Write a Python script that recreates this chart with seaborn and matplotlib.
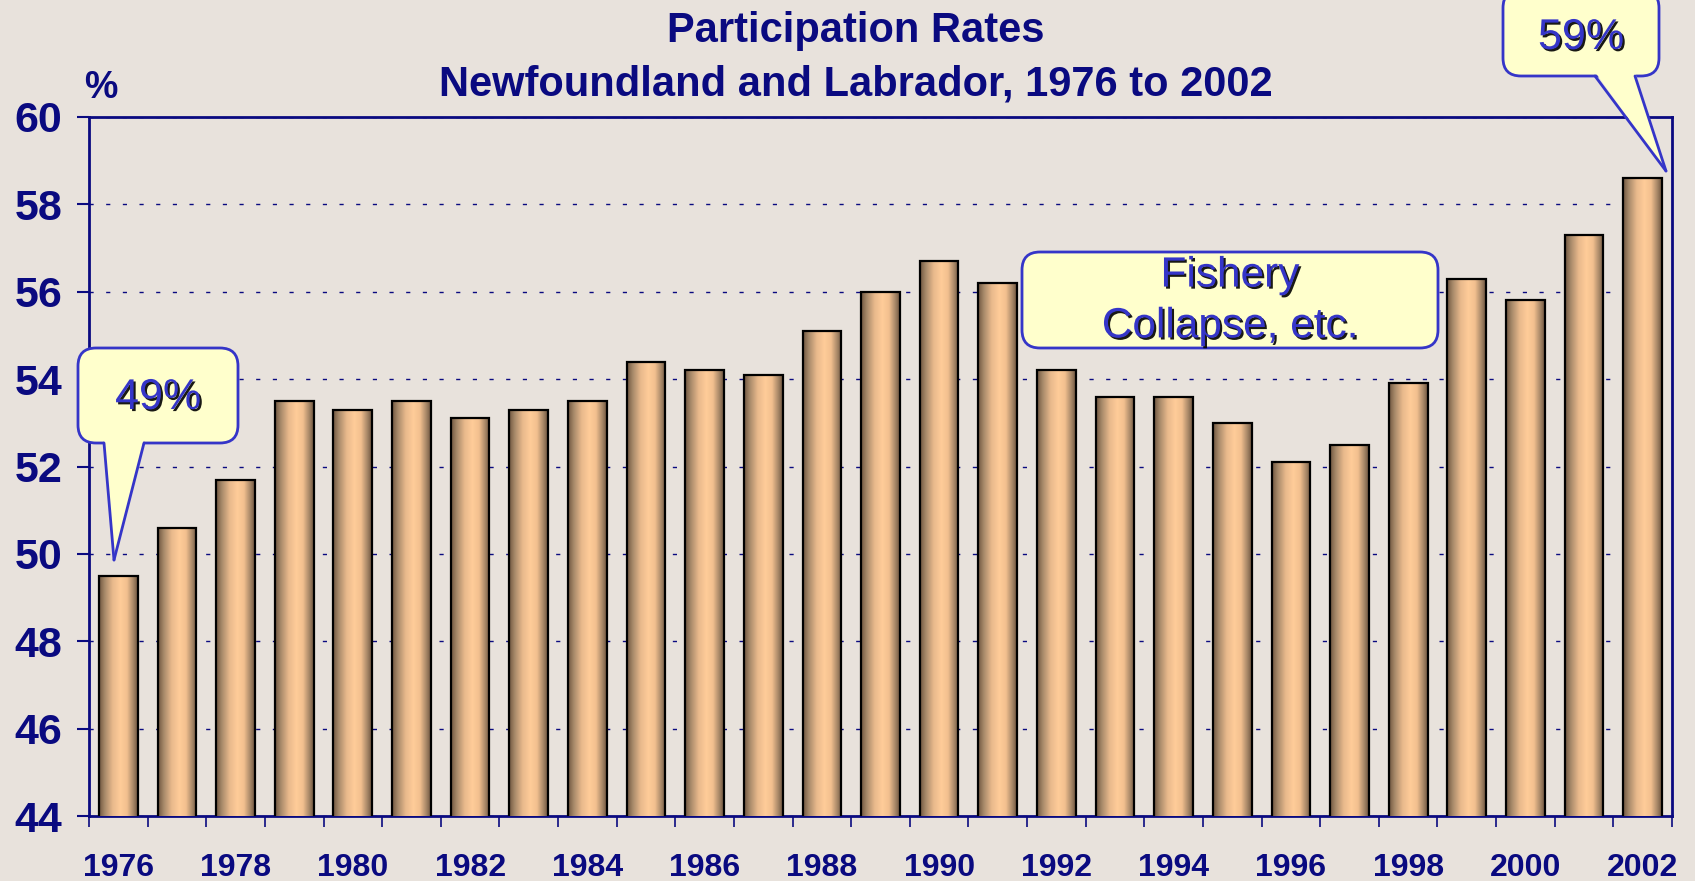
import numpy as np
import pandas as pd
import matplotlib
matplotlib.use('Agg')
import matplotlib.pyplot as plt
import matplotlib.patheffects as pe
from matplotlib.colors import LinearSegmentedColormap
from matplotlib.patches import FancyBboxPatch, Polygon
from matplotlib.lines import Line2D
import seaborn as sns

# data
years = list(range(1976, 2003))
rates = [49.5, 50.6, 51.7, 53.5, 53.3, 53.5, 53.1, 53.3, 53.5, 54.4,
         54.2, 54.1, 55.1, 56.0, 56.7, 56.2, 54.2, 53.6, 53.6, 53.0,
         52.1, 52.5, 53.9, 56.3, 55.8, 57.3, 58.6]
y_ticks = [44, 46, 48, 50, 52, 54, 56, 58, 60]
title_lines = ['Participation Rates', 'Newfoundland and Labrador, 1976 to 2002']

NAVY = '#0a0a80'
BG = '#e8e2dc'
CALLOUT_FILL = '#ffffcc'
CALLOUT_EDGE = '#3535c8'
W, H = 1695, 881

sns.set_style('white')
plt.rcParams['font.family'] = ['Liberation Sans', 'DejaVu Sans']

df = pd.DataFrame({'year': [str(y) for y in years], 'rate': rates})

fig = plt.figure(figsize=(W / 100, H / 100), dpi=100, facecolor=BG)
ax = fig.add_axes([89 / W, 1 - 816 / H, (1672 - 89) / W, (816 - 117) / H])
ax.set_facecolor(BG)

sns.barplot(data=df, x='year', y='rate', width=0.66, color='#ffcc99',
            edgecolor='black', linewidth=1.6, ax=ax, zorder=3)
ax.set_ylim(44, 60)
ax.set_xlim(-0.5, len(years) - 0.5)

# cylinder-like shading on each bar
cyl = LinearSegmentedColormap.from_list('cyl', [
    (0.0, '#6e5640'), (0.15, '#a88a6a'), (0.35, '#e8b98c'),
    (0.55, '#ffcc99'), (0.72, '#f2c08f'), (0.88, '#a88868'), (1.0, '#6e5640')])
grad = np.linspace(0, 1, 256).reshape(1, -1)
for bar in ax.patches:
    x0 = bar.get_x()
    w = bar.get_width()
    h = bar.get_height()
    im = ax.imshow(grad, cmap=cyl, aspect='auto', extent=(x0, x0 + w, 44, h),
                   zorder=3.5, interpolation='bilinear')
    im.set_clip_path(bar)
    bar.set_facecolor('none')
    bar.set_zorder(4)

# axes styling
for s in ax.spines.values():
    s.set_color(NAVY)
    s.set_linewidth(2)
    s.set_visible(True)

ax.set_yticks(y_ticks)
ax.set_yticklabels([str(t) for t in y_ticks])
ax.tick_params(axis='y', which='major', direction='out', length=9, width=1.5,
               color=NAVY, labelcolor=NAVY, labelsize=31, pad=10, left=True)
for lab in ax.get_yticklabels():
    lab.set_fontweight('bold')

ax.set_xticks(range(0, len(years), 2))
ax.set_xticklabels([str(y) for y in years[::2]])
ax.set_xticks(np.arange(-0.5, len(years), 1), minor=True)
ax.tick_params(axis='x', which='major', length=0, labelcolor=NAVY,
               labelsize=23, pad=27)
ax.tick_params(axis='x', which='minor', direction='out', length=8, width=1.2,
               color=NAVY, bottom=True)
for lab in ax.get_xticklabels():
    lab.set_fontweight('bold')

ax.yaxis.grid(True, color=NAVY, linestyle=(0, (3, 9)), linewidth=1)
ax.xaxis.grid(False)
ax.set_axisbelow(True)
ax.set_xlabel('')
ax.set_ylabel('')

# titles and unit label
fig.text(856 / W, 1 - 31 / H, title_lines[0], ha='center', va='center',
         color=NAVY, fontsize=30, fontweight='bold')
fig.text(856 / W, 1 - 84 / H, title_lines[1], ha='center', va='center',
         color=NAVY, fontsize=30, fontweight='bold')
fig.text(101 / W, 1 - 88 / H, '%', ha='center', va='center',
         color=NAVY, fontsize=27, fontweight='bold')

shadow = [pe.SimplePatchShadow(offset=(1.5, -1.5), shadow_rgbFace='black', alpha=0.9),
          pe.Normal()]


def px(x, y):
    return x / W, 1 - y / H


def callout(box, text, fontsize, tip=None, base=None, text_y=None):
    x0, y0, x1, y1 = box
    bx, by = px(x0, y1)
    r = 18
    patch = FancyBboxPatch((bx, by), (x1 - x0) / W, (y1 - y0) / H,
                           boxstyle=f'round,pad=0,rounding_size={r / W}',
                           transform=fig.transFigure, facecolor=CALLOUT_FILL,
                           edgecolor=CALLOUT_EDGE, linewidth=2, zorder=10,
                           mutation_aspect=W / H)
    fig.add_artist(patch)
    if tip is not None:
        (ax0, ay), (ax1, _) = base
        inner = 4
        poly = Polygon([px(ax0, ay - inner), px(ax1, ay - inner), px(*tip)],
                       closed=True, transform=fig.transFigure,
                       facecolor=CALLOUT_FILL, edgecolor='none', zorder=11)
        fig.add_artist(poly)
        for bxp in (ax0, ax1):
            p0, p1 = px(bxp, ay), px(*tip)
            fig.add_artist(Line2D([p0[0], p1[0]], [p0[1], p1[1]],
                                  transform=fig.transFigure, color=CALLOUT_EDGE,
                                  linewidth=2, zorder=12))
    ty = (y0 + y1) / 2 if text_y is None else text_y
    cx, cy = px((x0 + x1) / 2, ty)
    fig.text(cx, cy, text, ha='center', va='center', color=CALLOUT_EDGE,
             fontsize=fontsize, zorder=13, path_effects=shadow,
             linespacing=1.35)


callout((78, 348, 238, 443), '49%', 31, tip=(114, 560),
        base=((104, 443), (144, 443)), text_y=398)
callout((1503, -10, 1659, 76), '59%', 31, tip=(1666, 171),
        base=((1595, 76), (1635, 76)), text_y=38)
callout((1022, 252, 1438, 348), 'Fishery\nCollapse, etc.', 30.5, text_y=301)

fig.savefig('out.png', dpi=100, facecolor=BG)
